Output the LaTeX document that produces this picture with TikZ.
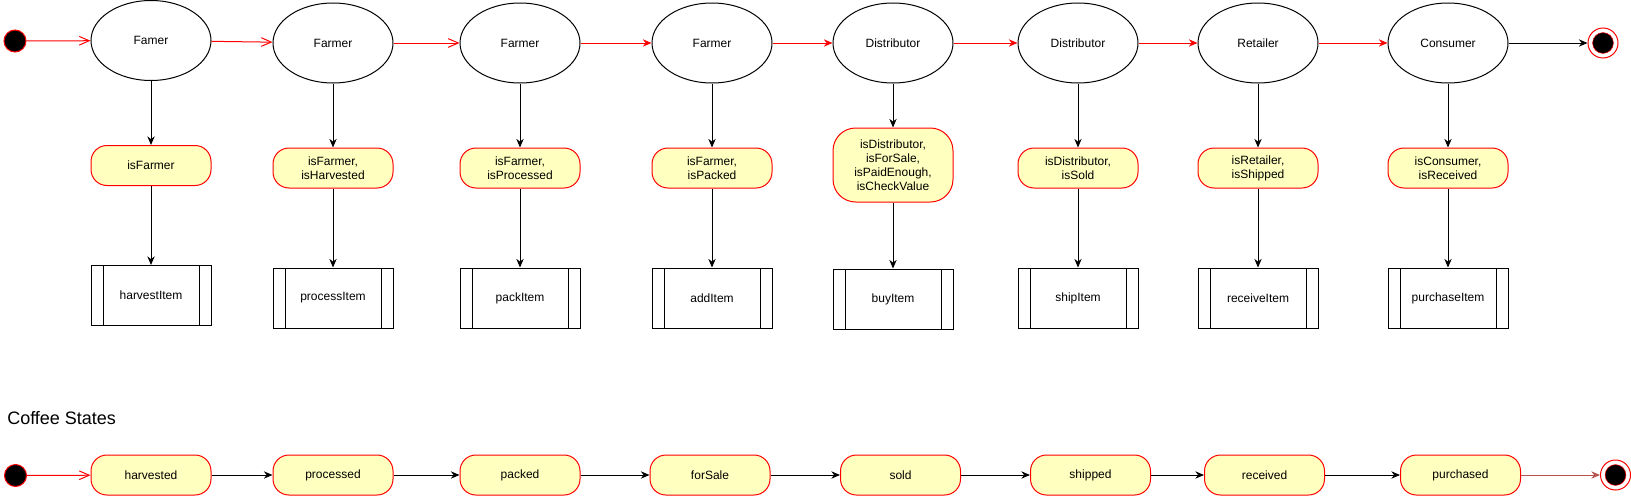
\documentclass[tikz,border=0pt]{standalone}
\usepackage{fontspec}
\setmainfont{Liberation Sans}
\usetikzlibrary{positioning}
\usetikzlibrary{shapes.geometric}
\usetikzlibrary{arrows.meta}

\definecolor{guardfill}{HTML}{FFFFC0}
\definecolor{endline}{HTML}{B85450}

\begin{document}
\begin{tikzpicture}[x=0.75pt, y=-0.75pt,
    every node/.style={font=\fontsize{9}{10.5}\selectfont, align=center},
    role/.style={ellipse, draw=black, line width=0.75pt,
      minimum width=90pt, minimum height=60pt, inner sep=0pt},
    guard/.style={rectangle, rounded corners=12pt, draw=red, fill=guardfill,
      line width=0.75pt, minimum width=90pt, minimum height=30pt, inner sep=0pt},
    action/.style={rectangle, draw=black, line width=0.75pt,
      minimum width=90pt, minimum height=45pt, inner sep=0pt,
      path picture={
        \draw[line width=0.75pt] ([xshift=9pt]path picture bounding box.north west)
          -- ([xshift=9pt]path picture bounding box.south west);
        \draw[line width=0.75pt] ([xshift=-9pt]path picture bounding box.north east)
          -- ([xshift=-9pt]path picture bounding box.south east);}},
    startdot/.style={circle, draw=red, fill=black, line width=0.75pt,
      minimum size=16.5pt, inner sep=0pt},
    enddot/.style={circle, draw=red, line width=0.75pt, minimum size=22.5pt,
      inner sep=0pt, path picture={
        \fill[black, draw=red, line width=0.4pt] (path picture bounding box.center) circle (7.8pt);}},
    openflow/.style={draw=red, line width=0.75pt, -{Straight Barb[length=7.5pt,width=6.5pt]}},
    redflow/.style={draw=red, line width=0.75pt, -{Stealth[length=6.5pt,width=5.5pt]}},
    flow/.style={draw=black, line width=0.75pt, -{Stealth[length=6.5pt,width=5.5pt]}},
    lastflow/.style={draw=endline, line width=0.75pt, -{Stealth[length=6.5pt,width=5.5pt]}}]

    \useasboundingbox (0,0) rectangle (1631,496);

    % roles
    \node[startdot] (start) at (15,41) {};
    \node[role] (harvestRole) at (151,40.5) {Famer};
    \node[role] (processRole) at (333,43) {Farmer};
    \node[role] (packRole) at (520,43) {Farmer};
    \node[role] (addRole) at (712,43) {Farmer};
    \node[role] (buyRole) at (893,43) {Distributor};
    \node[role] (shipRole) at (1078,43) {Distributor};
    \node[role] (receiveRole) at (1258,43) {Retailer};
    \node[role] (purchaseRole) at (1448,43) {Consumer};
    \node[enddot] (end) at (1603,43) {};

    % guards
    \node[guard] (harvestGuard) at (151,165.5) {isFarmer};
    \node[guard] (processGuard) at (333,168) {isFarmer,\\isHarvested};
    \node[guard] (packGuard) at (520,168) {isFarmer,\\isProcessed};
    \node[guard] (addGuard) at (712,168) {isFarmer,\\isPacked};
    \node[guard, minimum height=55.5pt, rounded corners=17pt] (buyGuard) at (893,165)
      {isDistributor,\\isForSale,\\isPaidEnough,\\isCheckValue};
    \node[guard] (shipGuard) at (1078,168) {isDistributor,\\isSold};
    \node[guard] (receiveGuard) at (1258,168) {isRetailer,\\isShipped};
    \node[guard] (purchaseGuard) at (1448,168) {isConsumer,\\isReceived};

    % functions
    \node[action] (harvestItem) at (151,295.5) {harvestItem};
    \node[action] (processItem) at (333,298) {processItem};
    \node[action] (packItem) at (520,298) {packItem};
    \node[action] (addItem) at (712,298) {addItem};
    \node[action] (buyItem) at (893,299) {buyItem};
    \node[action] (shipItem) at (1078,298) {shipItem};
    \node[action] (receiveItem) at (1258,298) {receiveItem};
    \node[action] (purchaseItem) at (1448,298) {purchaseItem};

    \draw[openflow] (start) -- (harvestRole);
    \draw[openflow] (harvestRole) -- (processRole);
    \draw[openflow] (processRole) -- (packRole);
    \draw[redflow] (packRole) -- (addRole);
    \draw[redflow] (addRole) -- (buyRole);
    \draw[redflow] (buyRole) -- (shipRole);
    \draw[redflow] (shipRole) -- (receiveRole);
    \draw[redflow] (receiveRole) -- (purchaseRole);
    \draw[flow] (purchaseRole) -- (end);

    \foreach \step in {harvest,process,pack,add,buy,ship,receive,purchase} {
      \draw[flow] (\step Role) -- (\step Guard);
      \draw[flow] (\step Guard) -- (\step Item);
    }

    % coffee states
    \node[anchor=base west, inner sep=0pt, font=\fontsize{13.5}{16}\selectfont] (title)
      at (7,424) {Coffee States};
    \node[startdot] (startState) at (15.5,475.5) {};
    \node[guard] (harvested) at (151,475) {harvested};
    \node[guard] (processed) at (333,475) {processed};
    \node[guard] (packed) at (520,475) {packed};
    \node[guard] (forSale) at (710,475) {forSale};
    \node[guard] (sold) at (900.5,475) {sold};
    \node[guard] (shipped) at (1090.5,475) {shipped};
    \node[guard] (received) at (1264.5,475) {received};
    \node[guard] (purchased) at (1460.5,475) {purchased};
    \node[enddot] (endState) at (1615.5,475) {};

    \draw[openflow] (startState) -- (harvested);
    \draw[flow] (harvested) -- (processed);
    \draw[flow] (processed) -- (packed);
    \draw[flow] (packed) -- (forSale);
    \draw[flow] (forSale) -- (sold);
    \draw[flow] (sold) -- (shipped);
    \draw[flow] (shipped) -- (received);
    \draw[flow] (received) -- (purchased);
    \draw[lastflow] (purchased) -- (endState);
\end{tikzpicture}
\end{document}
